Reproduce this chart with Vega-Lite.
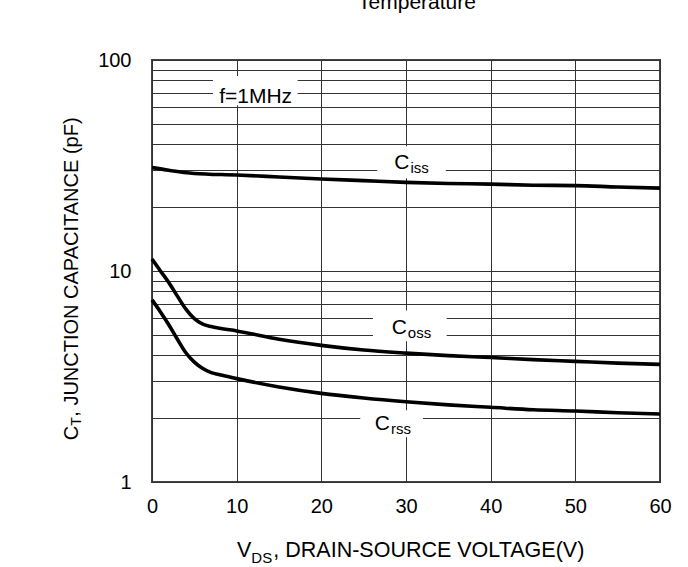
{
  "$schema": "https://vega.github.io/schema/vega-lite/v6.json",
  "width": 508,
  "height": 422,
  "autosize": {"type": "none"},
  "padding": {"left": 152, "top": 60, "right": 28, "bottom": 85},
  "background": "white",
  "config": {
    "view": {"stroke": "#444", "strokeWidth": 2},
    "font": "Liberation Sans",
    "text": {"font": "Liberation Sans", "color": "black"}
  },
  "datasets": {
    "curves": [
      {"series": "Ciss", "x": 0, "y": 30.9}, {"series": "Ciss", "x": 2, "y": 30.0}, {"series": "Ciss", "x": 5, "y": 29.0}, {"series": "Ciss", "x": 10, "y": 28.5}, {"series": "Ciss", "x": 15, "y": 27.9}, {"series": "Ciss", "x": 20, "y": 27.3}, {"series": "Ciss", "x": 25, "y": 26.8}, {"series": "Ciss", "x": 30, "y": 26.3}, {"series": "Ciss", "x": 35, "y": 26.0}, {"series": "Ciss", "x": 40, "y": 25.8}, {"series": "Ciss", "x": 45, "y": 25.5}, {"series": "Ciss", "x": 50, "y": 25.4}, {"series": "Ciss", "x": 55, "y": 25.0}, {"series": "Ciss", "x": 60, "y": 24.7},
      {"series": "Coss", "x": 0, "y": 11.4}, {"series": "Coss", "x": 1, "y": 10.0}, {"series": "Coss", "x": 2, "y": 8.8}, {"series": "Coss", "x": 3, "y": 7.6}, {"series": "Coss", "x": 4, "y": 6.6}, {"series": "Coss", "x": 5, "y": 5.95}, {"series": "Coss", "x": 6, "y": 5.6}, {"series": "Coss", "x": 7, "y": 5.45}, {"series": "Coss", "x": 8, "y": 5.35}, {"series": "Coss", "x": 10, "y": 5.2}, {"series": "Coss", "x": 15, "y": 4.75}, {"series": "Coss", "x": 20, "y": 4.44}, {"series": "Coss", "x": 25, "y": 4.22}, {"series": "Coss", "x": 30, "y": 4.08}, {"series": "Coss", "x": 35, "y": 3.97}, {"series": "Coss", "x": 40, "y": 3.89}, {"series": "Coss", "x": 45, "y": 3.8}, {"series": "Coss", "x": 50, "y": 3.73}, {"series": "Coss", "x": 55, "y": 3.66}, {"series": "Coss", "x": 60, "y": 3.61},
      {"series": "Crss", "x": 0, "y": 7.3}, {"series": "Crss", "x": 1, "y": 6.4}, {"series": "Crss", "x": 2, "y": 5.55}, {"series": "Crss", "x": 3, "y": 4.75}, {"series": "Crss", "x": 4, "y": 4.1}, {"series": "Crss", "x": 5, "y": 3.7}, {"series": "Crss", "x": 6, "y": 3.45}, {"series": "Crss", "x": 7, "y": 3.3}, {"series": "Crss", "x": 8, "y": 3.22}, {"series": "Crss", "x": 10, "y": 3.09}, {"series": "Crss", "x": 15, "y": 2.82}, {"series": "Crss", "x": 20, "y": 2.63}, {"series": "Crss", "x": 25, "y": 2.5}, {"series": "Crss", "x": 30, "y": 2.4}, {"series": "Crss", "x": 35, "y": 2.32}, {"series": "Crss", "x": 40, "y": 2.26}, {"series": "Crss", "x": 45, "y": 2.2}, {"series": "Crss", "x": 50, "y": 2.17}, {"series": "Crss", "x": 55, "y": 2.13}, {"series": "Crss", "x": 60, "y": 2.1}
    ],
    "boxes": [
      {"x": 7.2, "x2": 17.2, "y": 61, "y2": 84},
      {"x": 26.6, "x2": 34.7, "y": 27.5, "y2": 39},
      {"x": 26.1, "x2": 34.8, "y": 4.65, "y2": 6.5},
      {"x": 24.6, "x2": 32.0, "y": 1.63, "y2": 2.19}
    ],
    "labels": [
      {"main": "C", "sub": "iss", "x": 30.4, "y": 30.4},
      {"main": "C", "sub": "oss", "x": 30.1, "y": 5.04},
      {"main": "C", "sub": "rss", "x": 28.1, "y": 1.762}
    ]
  },
  "encoding": {
    "x": {
      "field": "x", "type": "quantitative",
      "scale": {"domain": [0, 60], "nice": false, "zero": false},
      "axis": {
        "values": [0, 10, 20, 30, 40, 50, 60], "title": null, "grid": true,
        "gridColor": "#333", "gridWidth": 1, "ticks": false, "domain": false,
        "labelFontSize": 20, "labelColor": "black", "labelPadding": 14,
        "labelFont": "Liberation Sans", "labelFlush": false, "labelOverlap": false
      }
    },
    "y": {
      "field": "y", "type": "quantitative",
      "scale": {"type": "log", "domain": [1, 100], "nice": false},
      "axis": {
        "values": [1, 2, 3, 4, 5, 6, 7, 8, 9, 10, 20, 30, 40, 50, 60, 70, 80, 90, 100],
        "labelExpr": "datum.value == 1 || datum.value == 10 || datum.value == 100 ? format(datum.value, 'd') : ''",
        "title": null, "grid": true, "gridColor": "#333", "gridWidth": 1,
        "ticks": false, "domain": false, "labelFontSize": 20, "labelColor": "black",
        "labelPadding": 21, "labelFont": "Liberation Sans", "labelOverlap": false,
        "labelFlush": false
      }
    }
  },
  "layer": [
    {
      "data": {"name": "boxes"},
      "mark": {"type": "rect", "color": "white", "opacity": 1},
      "encoding": {"x2": {"field": "x2"}, "y2": {"field": "y2"}}
    },
    {
      "data": {"name": "curves"},
      "mark": {"type": "line", "interpolate": "monotone", "strokeWidth": 3.6, "color": "black"},
      "encoding": {"detail": {"field": "series"}}
    },
    {
      "data": {"name": "labels"},
      "mark": {"type": "text", "align": "right", "baseline": "alphabetic", "fontSize": 21},
      "encoding": {"text": {"field": "main"}}
    },
    {
      "data": {"name": "labels"},
      "mark": {"type": "text", "align": "left", "baseline": "alphabetic", "fontSize": 15, "dx": 1, "dy": 4},
      "encoding": {"text": {"field": "sub"}}
    },
    {
      "data": {"values": [{"x": 12.24, "y": 62.6}]},
      "mark": {"type": "text", "align": "center", "baseline": "alphabetic", "fontSize": 21, "text": "f=1MHz"}
    },
    {
      "data": {"values": [{"x": 31.3, "y": 174}]},
      "mark": {"type": "text", "align": "center", "baseline": "alphabetic", "fontSize": 21, "text": "Temperature"}
    },
    {
      "data": {"values": [{"x": 11.73, "y": 0.442}]},
      "mark": {"type": "text", "align": "right", "baseline": "alphabetic", "fontSize": 21.5, "text": "V"}
    },
    {
      "data": {"values": [{"x": 11.73, "y": 0.442}]},
      "mark": {"type": "text", "align": "left", "baseline": "alphabetic", "fontSize": 15, "dy": 6, "text": "DS"}
    },
    {
      "data": {"values": [{"x": 11.73, "y": 0.442}]},
      "mark": {"type": "text", "align": "left", "baseline": "alphabetic", "fontSize": 21.5, "dx": 22, "text": ", DRAIN-SOURCE VOLTAGE(V)"}
    },
    {
      "data": {"values": [{"x": -9.45, "y": 1.848}]},
      "mark": {"type": "text", "align": "right", "baseline": "middle", "angle": 270, "fontSize": 20, "text": "C"}
    },
    {
      "data": {"values": [{"x": -9.45, "y": 1.848}]},
      "mark": {"type": "text", "align": "left", "baseline": "middle", "angle": 270, "fontSize": 14, "dy": 5, "text": "T"}
    },
    {
      "data": {"values": [{"x": -9.45, "y": 1.848}]},
      "mark": {"type": "text", "align": "left", "baseline": "middle", "angle": 270, "fontSize": 20, "dx": 9, "text": ", JUNCTION CAPACITANCE (pF)"}
    }
  ]
}
